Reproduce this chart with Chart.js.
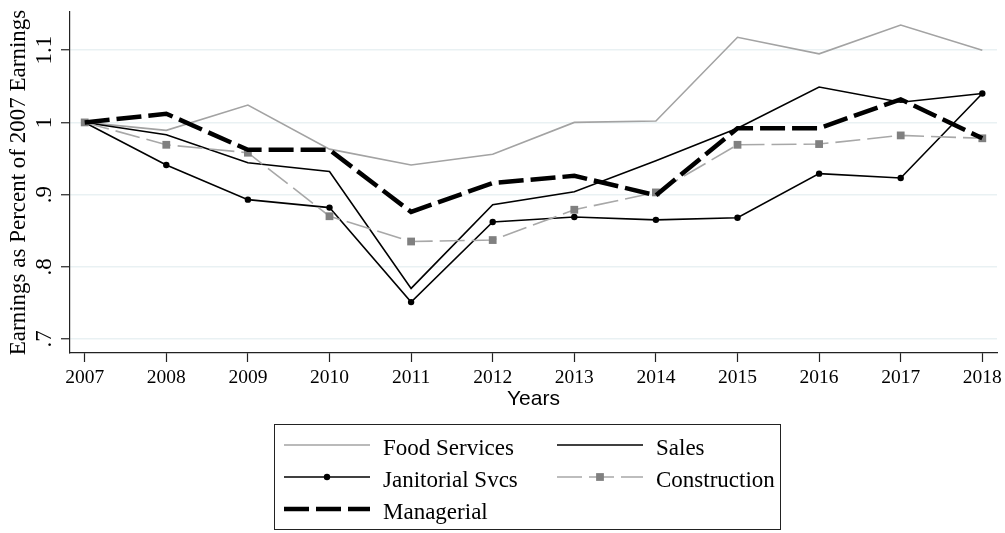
<!DOCTYPE html>
<html>
<head>
<meta charset="utf-8">
<title>Earnings as Percent of 2007 Earnings</title>
<script src="https://cdn.jsdelivr.net/npm/chart.js@4.4.1/dist/chart.umd.min.js"></script>
<style>
  html, body { margin: 0; padding: 0; background: #fff; }
  #wrap { width: 1005px; height: 533px; }
</style>
</head>
<body>
<div id="wrap"><canvas id="earningsChart" width="1005" height="533"></canvas></div>
<script>
// данные
const years = [2007, 2008, 2009, 2010, 2011, 2012, 2013, 2014, 2015, 2016, 2017, 2018];
const foodServices = [1.000, 0.989, 1.024, 0.963, 0.941, 0.956, 1.000, 1.002, 1.118, 1.095, 1.135, 1.100];
const sales        = [1.000, 0.983, 0.944, 0.932, 0.770, 0.886, 0.904, 0.947, 0.992, 1.049, 1.028, 1.040];
const janitorial   = [1.000, 0.941, 0.893, 0.882, 0.751, 0.862, 0.869, 0.865, 0.868, 0.929, 0.923, 1.040];
const construction = [1.000, 0.969, 0.958, 0.870, 0.835, 0.837, 0.879, 0.903, 0.969, 0.970, 0.982, 0.978];
const managerial   = [1.000, 1.012, 0.962, 0.962, 0.876, 0.916, 0.926, 0.899, 0.992, 0.992, 1.032, 0.978];
const yTicks = [0.7, 0.8, 0.9, 1, 1.1];
const yTickLabels = ['.7', '.8', '.9', '1', '1.1'];

const serif = "'Liberation Serif', 'Times New Roman', serif";
const sans = "'Liberation Sans', Arial, sans-serif";

const toPoints = vals => years.map((yr, i) => ({ x: yr, y: vals[i] }));

// легенда в рамке, две колонки как в Stata
const boxLegend = {
  id: 'boxLegend',
  afterDraw(chart) {
    const ctx = chart.ctx;
    const cols = [284, 557];
    const rows = [445, 477, 509];
    const len = 86;
    ctx.save();
    ctx.strokeStyle = '#222';
    ctx.lineWidth = 1;
    ctx.strokeRect(274.5, 424.5, 506, 105);
    chart.data.datasets.forEach((ds, i) => {
      const x = cols[i % 2];
      const y = rows[Math.floor(i / 2)];
      ctx.strokeStyle = ds.borderColor;
      ctx.lineWidth = ds.borderWidth;
      ctx.lineCap = 'butt';
      ctx.setLineDash(ds.borderDash || []);
      ctx.beginPath();
      ctx.moveTo(x, y);
      ctx.lineTo(x + len, y);
      ctx.stroke();
      ctx.setLineDash([]);
      if (ds.pointRadius > 0) {
        const cx = x + len / 2;
        ctx.fillStyle = ds.pointBackgroundColor;
        ctx.beginPath();
        if (ds.pointStyle === 'rect') {
          const s = ds.pointRadius * Math.SQRT1_2;
          ctx.rect(cx - s, y - s, 2 * s, 2 * s);
        } else {
          ctx.arc(cx, y, ds.pointRadius, 0, Math.PI * 2);
        }
        ctx.fill();
      }
      ctx.fillStyle = '#000';
      ctx.font = '23px ' + serif;
      ctx.textBaseline = 'alphabetic';
      ctx.textAlign = 'left';
      ctx.fillText(ds.label, x + 99, y + 10);
    });
    ctx.restore();
  }
};

new Chart(document.getElementById('earningsChart'), {
  type: 'line',
  data: {
    datasets: [
      {
        label: 'Food Services',
        data: toPoints(foodServices),
        borderColor: '#a3a3a3',
        borderWidth: 1.6,
        pointRadius: 0,
        order: 5
      },
      {
        label: 'Sales',
        data: toPoints(sales),
        borderColor: '#000',
        borderWidth: 1.6,
        pointRadius: 0,
        order: 4
      },
      {
        label: 'Janitorial Svcs',
        data: toPoints(janitorial),
        borderColor: '#000',
        borderWidth: 1.6,
        pointRadius: 3.2,
        pointBorderWidth: 0,
        pointBackgroundColor: '#000',
        order: 3
      },
      {
        label: 'Construction',
        data: toPoints(construction),
        borderColor: '#a8a8a8',
        borderWidth: 1.6,
        borderDash: [25, 7],
        pointStyle: 'rect',
        pointRadius: 5.5,
        pointBorderWidth: 0,
        pointBackgroundColor: '#808080',
        order: 2
      },
      {
        label: 'Managerial',
        data: toPoints(managerial),
        borderColor: '#000',
        borderWidth: 4.5,
        borderDash: [25, 7],
        pointRadius: 0,
        order: 1
      }
    ]
  },
  options: {
    responsive: false,
    animation: false,
    layout: { padding: { left: 0, right: 8, top: 12, bottom: 0 } },
    plugins: {
      legend: { display: false },
      tooltip: { enabled: false }
    },
    scales: {
      x: {
        type: 'linear',
        min: 2006.82,
        max: 2018.18,
        afterBuildTicks: s => { s.ticks = years.map(v => ({ value: v })); },
        afterFit: s => { s.height = 180; s.paddingLeft = 0; s.paddingRight = 0; },
        grid: { drawOnChartArea: false, drawTicks: true, tickLength: 9, tickColor: '#222', tickWidth: 1.2 },
        border: { display: true, color: '#222', width: 1.2 },
        ticks: {
          autoSkip: false,
          maxRotation: 0,
          padding: 4.4,
          color: '#000',
          font: { family: serif, size: 19.5 },
          callback: v => String(v)
        },
        title: {
          display: true,
          text: 'Years',
          color: '#000',
          font: { family: sans, size: 21 },
          padding: { top: 0, bottom: 120.7 }
        }
      },
      y: {
        min: 0.6805,
        max: 1.153,
        afterBuildTicks: s => { s.ticks = yTicks.map(v => ({ value: v })); },
        afterFit: s => { s.width = 70; s.paddingTop = 0; s.paddingBottom = 0; },
        grid: { color: '#e9f1f3', lineWidth: 1.5, drawTicks: true, tickLength: 9, tickColor: '#222', tickWidth: 1.2 },
        border: { display: true, color: '#222', width: 1.2 },
        ticks: {
          minRotation: 90,
          maxRotation: 90,
          crossAlign: 'center',
          padding: 1.4,
          autoSkip: false,
          color: '#000',
          font: { family: serif, size: 23 },
          callback: (v, i) => yTickLabels[i]
        },
        title: {
          display: true,
          text: 'Earnings as Percent of 2007 Earnings',
          color: '#000',
          font: { family: serif, size: 23 },
          padding: { top: 5.4, bottom: 0 }
        }
      }
    }
  },
  plugins: [boxLegend]
});
</script>
</body>
</html>
